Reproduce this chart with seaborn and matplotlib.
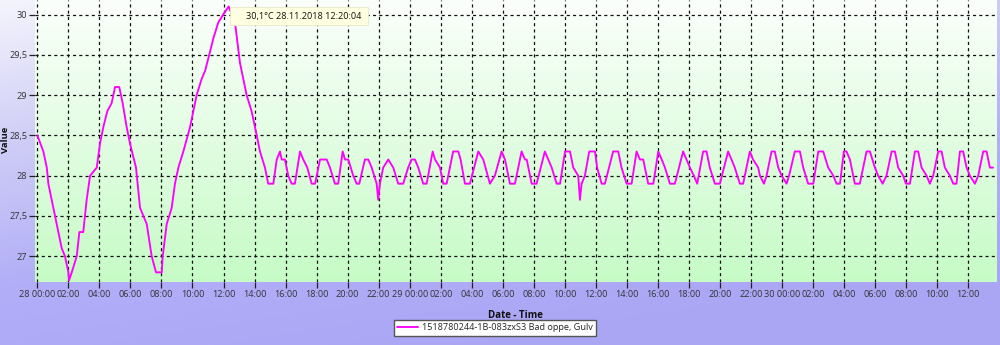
import numpy as np
import pandas as pd
import matplotlib
matplotlib.use("Agg")
import matplotlib.pyplot as plt
import matplotlib.dates as mdates
from matplotlib.colors import LinearSegmentedColormap
from matplotlib.ticker import FuncFormatter
from matplotlib.patches import Rectangle
import seaborn as sns

# ---------------- data ----------------
start_time = "2018-11-28 00:00"
series_name = "1518780244-1B-083zxS3 Bad oppe, Gulv"

# hours after 28.11.2018 00:00 -- heating swings
swing_hours = [0.0, 0.39, 0.61, 0.71, 1.14, 1.57, 1.78, 2.0, 2.04, 2.22, 2.54, 2.71,
               2.96, 3.18, 3.40, 3.83, 4.04, 4.25, 4.51, 4.79, 5.01, 5.28, 5.50, 5.76,
               5.97, 6.36, 6.62, 7.05, 7.37, 7.65, 8.02, 8.08, 8.34, 8.66, 8.87, 9.09,
               9.41, 9.84, 10.27, 10.59, 10.81, 11.08, 11.34, 11.66, 11.98, 12.33, 12.74,
               13.06, 13.49, 13.81, 14.14, 14.35, 14.67, 14.88, 15.21]
swing_temps = [28.5, 28.3, 28.1, 27.9, 27.5, 27.1, 27.0, 26.8, 26.7, 26.8, 27.0, 27.3,
               27.3, 27.7, 28.0, 28.1, 28.4, 28.6, 28.8, 28.9, 29.1, 29.1, 28.9, 28.6,
               28.4, 28.1, 27.6, 27.4, 27.0, 26.8, 26.8, 27.0, 27.4, 27.6, 27.9, 28.1,
               28.3, 28.6, 29.0, 29.2, 29.3, 29.5, 29.7, 29.9, 30.0, 30.1, 29.9,
               29.4, 29.0, 28.8, 28.5, 28.3, 28.1, 27.9, 27.9]

# hours after 28.11.2018 00:00 -- steady cycling
cycle_hours = [15.43, 15.64, 15.75, 15.96, 16.17, 16.39, 16.60, 16.93, 17.14, 17.40, 17.68,
               17.90, 18.22, 18.65, 18.86, 19.18, 19.39, 19.68, 19.83, 20.04, 20.36, 20.58,
               20.75, 21.11, 21.33, 21.55, 21.87, 21.97, 22.08, 22.29, 22.62, 22.94, 23.26,
               23.58, 23.90, 24.12, 24.34, 24.55, 24.87, 25.09, 25.48, 25.63, 25.95, 26.16,
               26.38, 26.80, 27.13, 27.28, 27.56, 27.88, 28.42, 28.74, 29.17, 29.49, 29.92,
               30.14, 30.46, 30.78, 31.21, 31.43, 31.54, 31.86, 32.18, 32.71, 32.93, 33.15,
               33.47, 33.69, 34.01, 34.33, 34.54, 34.86, 34.97, 35.08, 35.29, 35.57, 35.94,
               36.08, 36.37, 36.58, 37.11, 37.44, 37.65, 37.98, 38.30, 38.62, 38.84, 39.05,
               39.37, 39.70, 40.02, 40.24, 40.45, 40.77, 41.09, 41.62, 41.84, 42.06, 42.31,
               42.53, 42.91, 43.13, 43.34, 43.67, 43.99, 44.52, 44.74, 44.95, 45.28, 45.49,
               45.92, 46.13, 46.46, 46.57, 46.83, 47.00, 47.32, 47.53, 47.75, 47.97, 48.29,
               48.45, 48.82, 49.15, 49.36, 49.68, 50.01, 50.33, 50.65, 50.97, 51.30, 51.51,
               51.73, 51.98, 52.15, 52.37, 52.69, 53.01, 53.44, 53.66, 53.98, 54.19, 54.48,
               54.73, 55.06, 55.27, 55.48, 55.80, 55.98, 56.24, 56.56, 56.77, 56.99, 57.31,
               57.52, 57.74, 58.06, 58.28, 58.49, 58.81, 59.03, 59.24, 59.46, 59.67, 59.89,
               60.10, 60.43, 60.64, 60.96, 61.18, 61.39, 61.60]
cycle_temps = [28.2, 28.3, 28.2, 28.2, 28.0, 27.9, 27.9, 28.3, 28.2, 28.1, 27.9,
               27.9, 28.2, 28.2, 28.1, 27.9, 27.9, 28.3, 28.2, 28.2, 28.0, 27.9,
               27.9, 28.2, 28.2, 28.1, 27.9, 27.7, 27.9, 28.1, 28.2, 28.1, 27.9,
               27.9, 28.1, 28.2, 28.2, 28.1, 27.9, 27.9, 28.3, 28.2, 28.1, 27.9,
               27.9, 28.3, 28.3, 28.2, 27.9, 27.9, 28.3, 28.2, 27.9, 28.0, 28.3,
               28.2, 27.9, 27.9, 28.3, 28.2, 28.2, 27.9, 27.9, 28.3, 28.2, 28.1,
               27.9, 27.9, 28.3, 28.3, 28.1, 28.0, 27.7, 27.9, 28.0, 28.3, 28.3,
               28.1, 27.9, 27.9, 28.3, 28.3, 28.1, 27.9, 27.9, 28.3, 28.2, 28.2,
               27.9, 27.9, 28.3, 28.2, 28.1, 27.9, 27.9, 28.3, 28.2, 28.1, 28.0,
               27.9, 28.3, 28.3, 28.1, 27.9, 27.9, 28.3, 28.2, 28.1, 27.9, 27.9,
               28.3, 28.2, 28.1, 28.0, 27.9, 28.0, 28.3, 28.3, 28.1, 28.0, 27.9,
               28.0, 28.3, 28.3, 28.1, 27.9, 27.9, 28.3, 28.3, 28.1, 28.0, 27.9,
               27.9, 28.3, 28.3, 28.2, 27.9, 27.9, 28.3, 28.3, 28.1, 28.0, 27.9,
               28.0, 28.3, 28.3, 28.1, 28.0, 27.9, 27.9, 28.3, 28.3, 28.1, 28.0,
               27.9, 28.0, 28.3, 28.3, 28.1, 28.0, 27.9, 27.9, 28.3, 28.3, 28.1,
               28.0, 27.9, 28.0, 28.3, 28.3, 28.1, 28.1]

y_ticks = [27.0, 27.5, 28.0, 28.5, 29.0, 29.5, 30.0]
y_tick_labels = ["27", "27,5", "28", "28,5", "29", "29,5", "30"]
x_label = "Date - Time"
y_label = "Value"
tooltip_text = "30,1°C 28.11.2018 12:20:04"

# ---------------- build frame ----------------
t0 = pd.Timestamp(start_time)
df = pd.DataFrame({
    "time": t0 + pd.to_timedelta(swing_hours + cycle_hours, unit="h"),
    "temp": swing_temps + cycle_temps,
})

sns.set_theme(style="white")
plt.rcParams["font.family"] = ["Open Sans", "DejaVu Sans"]

W, H = 1000, 345
fig = plt.figure(figsize=(W / 100, H / 100), dpi=100)

# figure background gradient (lavender)
bg = fig.add_axes([0, 0, 1, 1], zorder=-10)
bg.axis("off")
yy, xx = np.mgrid[0:1:200j, 0:1:400j]
grad = np.clip(0.8 * yy + 0.35 * xx, 0, 1)
bg_cmap = LinearSegmentedColormap.from_list("bg", ["#f4f4fd", "#cfcdf6", "#b2aef8", "#aaa6f4"])
bg.imshow(grad, cmap=bg_cmap, aspect="auto", extent=[0, 1, 0, 1], origin="upper",
          vmin=0, vmax=1)
bg.set_xlim(0, 1)
bg.set_ylim(0, 1)

# plot area
left, right, top, bottom = 35, 997, 0, 282
pos = [left / W, 1 - bottom / H, (right - left) / W, (bottom - top) / H]

pa = fig.add_axes(pos, zorder=-5)
pa.axis("off")
gy = np.linspace(0, 1, 200).reshape(-1, 1)
pa_cmap = LinearSegmentedColormap.from_list("pa", ["#fbfffb", "#e2fde2", "#c6fbc6"])
pa.imshow(gy, cmap=pa_cmap, aspect="auto", extent=[0, 1, 0, 1], origin="upper")
pa.set_xlim(0, 1)
pa.set_ylim(0, 1)

ax = fig.add_axes(pos)
ax.patch.set_alpha(0)

sns.lineplot(data=df, x="time", y="temp", ax=ax, color="#ff00ff", linewidth=1.35,
             estimator=None, sort=False, label=series_name)

ax.set_xlim(t0 - pd.Timedelta(hours=0.15), t0 + pd.Timedelta(hours=61.85))
ax.set_ylim(26.68, 30.18)

ax.xaxis.set_major_locator(mdates.HourLocator(byhour=range(0, 24, 2)))


def fmt_time(x, pos=None):
    d = mdates.num2date(x)
    if d.hour == 0 and d.minute == 0:
        return d.strftime("%d %H:%M")
    return d.strftime("%H:%M")


ax.xaxis.set_major_formatter(FuncFormatter(fmt_time))
ax.set_yticks(y_ticks)
ax.set_yticklabels(y_tick_labels)

ax.grid(True, color="#111111", linestyle=(0, (2.5, 2.5)), linewidth=0.9)
ax.set_axisbelow(True)
for s in ax.spines.values():
    s.set_visible(False)

ax.tick_params(axis="both", which="major", bottom=True, left=True, direction="out",
               length=4, width=0.9, color="#222222", labelsize=6.6,
               labelcolor="#333333", pad=1.5)

ax.set_xlabel(x_label, fontsize=7.0, fontweight="bold", color="#111111")
ax.set_ylabel(y_label, fontsize=6.8, fontweight="bold", color="#111111")
ax.xaxis.set_label_coords((515 - left) / (right - left), -(310 - bottom) / (bottom - top))
ax.yaxis.set_label_coords(-(left - 9.5) / (right - left), (bottom - 140) / (bottom - top))

leg = ax.legend(loc="center", bbox_to_anchor=(495 / W, 1 - 328 / H),
                bbox_transform=fig.transFigure, frameon=True, fancybox=False,
                fontsize=6.6, handlelength=2.3, handletextpad=0.4, borderpad=0.35,
                borderaxespad=0)
leg.get_frame().set_edgecolor("#555555")
leg.get_frame().set_facecolor("white")
leg.get_frame().set_alpha(1)
leg.get_frame().set_linewidth(1.0)

# tooltip
fig.patches.append(Rectangle((230 / W, 1 - 25 / H), 138 / W, 18 / H,
                             transform=fig.transFigure, facecolor="#ffffe1",
                             edgecolor="#e8e8c8", linewidth=0.6, zorder=10))
fig.text(246 / W, 1 - 16 / H, tooltip_text, fontsize=6.6, color="#111111",
         ha="left", va="center", zorder=11)

fig.savefig("out.png", dpi=100)
